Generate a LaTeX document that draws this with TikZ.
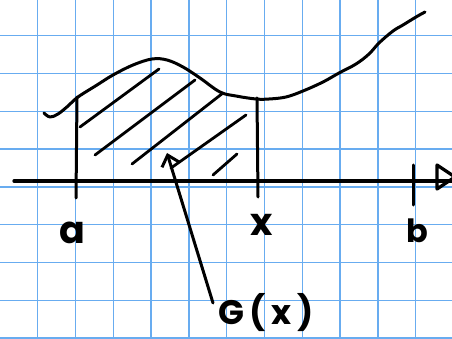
\documentclass[tikz,border=0pt]{standalone}
\usepackage{fontspec}
\setmainfont{Poppins}
\usetikzlibrary{arrows.meta}
\definecolor{gridblue}{RGB}{104,172,240}
\tikzset{
  gridline/.style={gridblue, line width=1.3pt},
  ink/.style={black, line width=3pt, line cap=round, line join=round},
  hatch/.style={black, line width=2.8pt, line cap=round},
  lbl/.style={font=\fontsize{38}{38}\selectfont\bfseries, inner sep=0pt},
  lbls/.style={font=\fontsize{32}{32}\selectfont\bfseries, inner sep=0pt},
  lblg/.style={font=\fontsize{34}{34}\selectfont\bfseries, inner sep=0pt},
}
\begin{document}
\begin{tikzpicture}[x=1pt,y=-1pt]
\useasboundingbox (0,0) rectangle (452,339);
\fill[white] (0,0) rectangle (452,339);
% grid
\foreach \k in {0,...,10} {
  \draw[gridline] ({37.7+37.8*\k},0) -- ({37.7+37.8*\k},339);
}
\foreach \k in {0,...,8} {
  \draw[gridline] (0,{35.7+37.8*\k}) -- (452,{35.7+37.8*\k});
}
% axis
\draw[ink, line width=3.3pt] (14,181) -- (452,181);
\draw[ink, line width=3.3pt] (437,165) -- (455,177) -- (437,189) -- cycle;
% curve
\draw[ink] plot[smooth, tension=0.6] coordinates {
  (44,113) (50,117) (58,114) (68,106) (78,97) (97,85) (113,75) (133,65)
  (152,59) (167,60) (183,67) (200,78) (220,92) (236,96) (256,99) (269,99)
  (286,97) (303,91) (323,82) (339,73) (356,64) (369,54) (379,43) (393,31)
  (403,25) (416,17) (425,12)};
% verticals and ticks
\draw[ink] (77,97) -- (76,198);
\draw[ink] (257,98) -- (258,197);
\draw[ink] (413,165) -- (413,205);
% hatching
\draw[hatch] (80,127) -- (159,69);
\draw[hatch] (95,155) -- (195,80);
\draw[hatch] (132,164) -- (223,93);
\draw[hatch] (171,168) -- (246,115);
\draw[hatch] (213,175) -- (237,154);
% labels
\node[lbl] (a) at (72,233) {a};
\node[lbl] (xl) at (262,225) {x};
\node[lbls] (b) at (417,231) {b};
\node[lblg, anchor=base west] (G) at (218,324) {G\,(\,x\,)};
\coordinate (gtail) at (213,303);
\coordinate (gtip) at (167,153);
\draw[ink, -{Straight Barb[length=10pt, width=18pt, line width=3pt]}] (gtail) -- (gtip);
\end{tikzpicture}
\end{document}
